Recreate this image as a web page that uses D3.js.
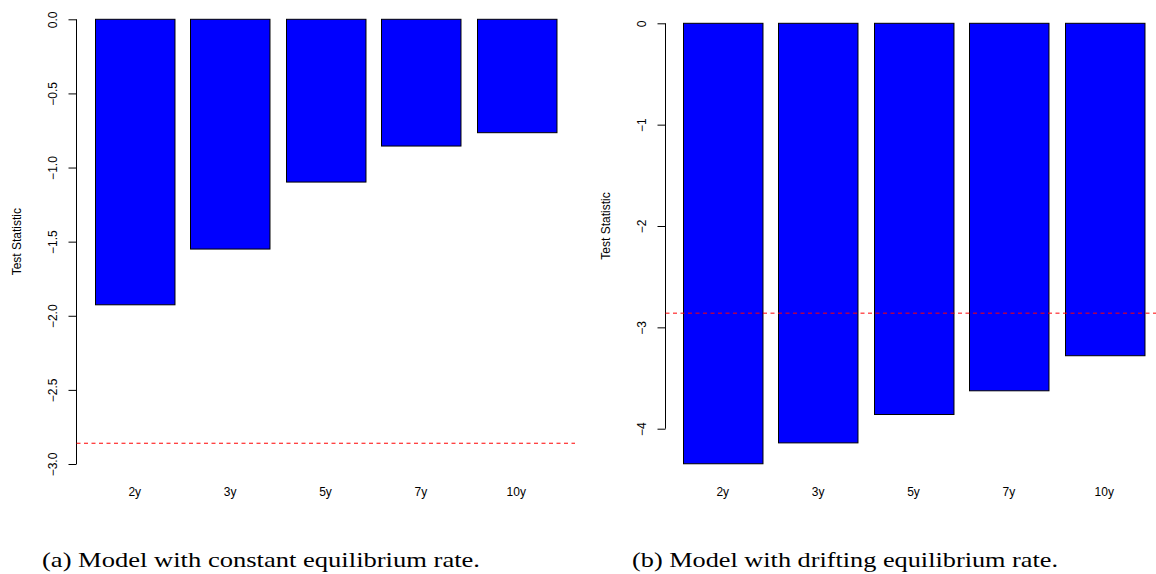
<!DOCTYPE html>
<html><head><meta charset="utf-8">
<script src="https://cdn.jsdelivr.net/npm/d3@7"></script>
<style>body{margin:0;background:#fff}svg{display:block}</style>
</head><body>
<svg id="c" width="1156" height="574"></svg>
<script>
const categories = ["2y","3y","5y","7y","10y"];
const constantValues = [-1.926, -1.55, -1.098, -0.855, -0.765];
const driftingValues = [-4.346, -4.14, -3.86, -3.626, -3.28];
const criticalValue = -2.86;
const constantTicks = [0, -0.5, -1.0, -1.5, -2.0, -2.5, -3.0];
const constantTickLabels = ["0.0","\u22120.5","\u22121.0","\u22121.5","\u22122.0","\u22122.5","\u22123.0"];
const driftingTicks = [0, -1, -2, -3, -4];
const driftingTickLabels = ["0","\u22121","\u22122","\u22123","\u22124"];
const captions = ["(a) Model with constant equilibrium rate.", "(b) Model with drifting equilibrium rate."];

const svg = d3.select("#c");
const font = "'Liberation Sans', Arial, sans-serif";

function panel(cfg) {
  const g = svg.append("g");
  const y = d3.scaleLinear().domain([0, cfg.ticks[cfg.ticks.length-1]]).range([cfg.y0, cfg.y1]);
  const x = d3.scaleBand().domain(categories).range([cfg.barL, cfg.barR]).paddingInner(1/6).paddingOuter(0);

  // bars
  g.selectAll("rect.bar").data(cfg.values).join("rect")
    .attr("x", (d,i) => Math.round(x(categories[i])) + 0.5)
    .attr("y", y(0))
    .attr("width", x.bandwidth())
    .attr("height", d => y(d) - y(0))
    .attr("fill", "#0000ff").attr("stroke", "#000").attr("stroke-width", 1);

  // y axis
  const axis = d3.axisLeft(y).tickValues(cfg.ticks).tickSize(8).tickFormat((d,i) => cfg.labels[i]);
  const ag = g.append("g").attr("transform", `translate(${cfg.axisX},0)`).call(axis);
  ag.select(".domain").attr("d", `M0,${y(0)}V${y(cfg.ticks[cfg.ticks.length-1])}`).attr("stroke", "#000");
  ag.selectAll(".tick line").attr("stroke", "#000");
  ag.selectAll(".tick text")
    .attr("font-family", font).attr("font-size", 12).attr("fill", "#000")
    .attr("x", null).attr("dy", null)
    .attr("text-anchor", "middle")
    .attr("transform", "translate(-20,0) rotate(-90)");

  // y label
  g.append("text").attr("transform", `translate(${cfg.axisX - 56},${(cfg.y0 + cfg.y1)/2}) rotate(-90)`)
    .attr("text-anchor", "middle").attr("font-family", font).attr("font-size", 12)
    .text("Test Statistic");

  // category labels
  g.selectAll("text.cat").data(categories).join("text")
    .attr("x", d => x(d) + x.bandwidth()/2).attr("y", 496)
    .attr("text-anchor", "middle").attr("font-family", font).attr("font-size", 12)
    .text(d => d);

  // critical value line
  g.append("line").attr("x1", cfg.axisX).attr("x2", cfg.lineEnd)
    .attr("y1", y(criticalValue)).attr("y2", y(criticalValue))
    .attr("stroke", "#ff0000").attr("stroke-width", 1).attr("stroke-dasharray", "4,3.5");

  // caption
  g.append("text").attr("x", cfg.capX).attr("y", 567)
    .attr("font-family", "'Liberation Serif', 'DejaVu Serif', serif").attr("font-size", 22)
    .attr("textLength", cfg.capW).attr("lengthAdjust", "spacingAndGlyphs")
    .text(cfg.caption);
}

panel({values: constantValues, ticks: constantTicks, labels: constantTickLabels,
  y0: 19.3, y1: 464, barL: 95, barR: 556, axisX: 76.5, lineEnd: 575,
  capX: 42, capW: 438, caption: captions[0]});
panel({values: driftingValues, ticks: driftingTicks, labels: driftingTickLabels,
  y0: 23.3, y1: 428.7, barL: 683, barR: 1144, axisX: 665.5, lineEnd: 1156,
  capX: 632, capW: 426, caption: captions[1]});
</script>
</body></html>
